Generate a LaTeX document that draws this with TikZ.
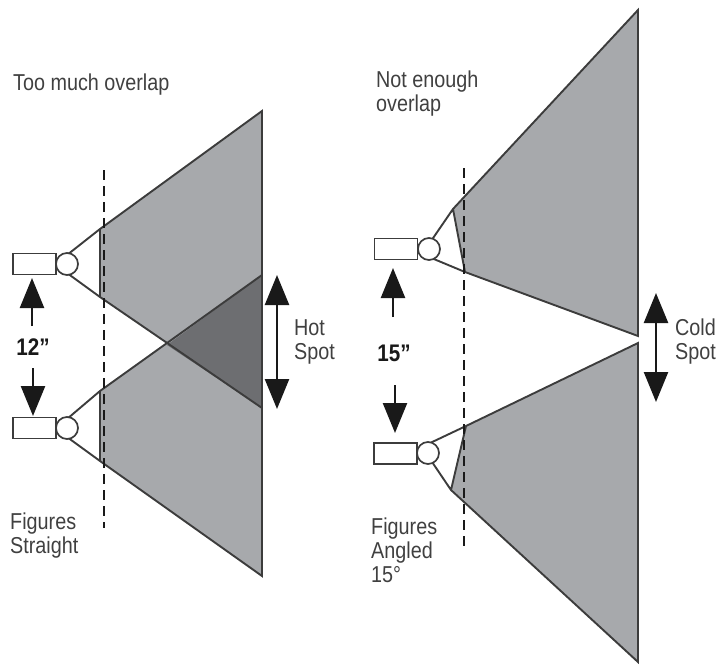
\documentclass[tikz,border=0pt]{standalone}
\usepackage{fontspec}
\setmainfont[FakeStretch=0.86]{Liberation Sans}
\usetikzlibrary{arrows.meta}
\definecolor{beamgray}{HTML}{A7A9AC}
\definecolor{hotgray}{HTML}{6D6E71}
\definecolor{linegray}{HTML}{3C3C3C}
\tikzset{
	lamp/.style={draw=linegray,line width=1.7pt,fill=white,minimum width=43pt,minimum height=21pt,inner sep=0pt},
	lens/.style={circle,draw=linegray,line width=1.7pt,fill=white,minimum size=22pt,inner sep=0pt},
	beam/.style={draw=linegray,line width=1.9pt},
	bigarrow/.style={line width=2.4pt,draw=black!90,-{Triangle[width=24pt,length=30pt]}},
	bothways/.style={line width=2.4pt,draw=black!90,{Triangle[width=24pt,length=30pt]}-{Triangle[width=24pt,length=30pt]}},
	cut/.style={line width=2.8pt,draw=black!90,dash pattern=on 10pt off 6pt},
	label/.style={align=left,anchor=north west,inner sep=0pt,text=black!75,font=\fontsize{23}{24}\selectfont},
	size/.style={inner sep=0pt,text=black!90,font=\fontsize{24}{24}\selectfont\bfseries}
}
\begin{document}
\begin{tikzpicture}[x=1pt,y=-1pt]
	\useasboundingbox (0,0) rectangle (716,670);
	% left pair
	\coordinate (a0) at (67,255);
	\coordinate (a1) at (100,229);
	\coordinate (a2) at (262,111);
	\coordinate (a3) at (262,408);
	\coordinate (a4) at (100,297);
	\coordinate (a5) at (67,273);
	\coordinate (b0) at (67,419);
	\coordinate (b1) at (100,391);
	\coordinate (b2) at (262,275);
	\coordinate (b3) at (262,576);
	\coordinate (b4) at (100,461);
	\coordinate (b5) at (67,437);
	\coordinate (x) at (167,345);
	\fill[beamgray] (a1) -- (a2) -- (a3) -- (a4) -- cycle;
	\fill[beamgray] (b1) -- (b2) -- (b3) -- (b4) -- cycle;
	\fill[hotgray] (x) -- (b2) -- (a3) -- cycle;
	\draw[beam] (a0) -- (a1) -- (a2) -- (a3) -- (a4) -- (a5) (a1) -- (a4);
	\draw[beam] (b0) -- (b1) -- (b2) -- (b3) -- (b4) -- (b5) (b1) -- (b4);
	\node[lamp] (la) at (34.5,264) {};
	\node[lens] (ca) at (67,264) {};
	\node[lamp] (lb) at (34.5,428) {};
	\node[lens] (cb) at (67,428) {};
	\coordinate (cuta) at (104,170);
	\coordinate (cutb) at (104,528);
	\draw[cut] (cuta) -- (cutb);
	\coordinate (up1) at (32,326);
	\coordinate (up2) at (32,278);
	\coordinate (dn1) at (33,368);
	\coordinate (dn2) at (33,416);
	\draw[bigarrow] (up1) -- (up2);
	\draw[bigarrow] (dn1) -- (dn2);
	\coordinate (hot1) at (277,275);
	\coordinate (hot2) at (277,409);
	\draw[bothways] (hot1) -- (hot2);
	\node[size] (twelve) at (33,347) {12\symbol{34}};
	\node[label] (much) at (13,74) {Too much overlap};
	\node[label] (hot) at (294,319) {Hot\\Spot};
	\node[label] (straight) at (10,513) {Figures\\Straight};
	% right pair
	\coordinate (c0) at (429,244);
	\coordinate (c1) at (453,209);
	\coordinate (c2) at (638,10);
	\coordinate (c3) at (638,336);
	\coordinate (c4) at (465,272);
	\coordinate (c5) at (429,257);
	\coordinate (d0) at (428,444);
	\coordinate (d1) at (466,426);
	\coordinate (d2) at (638,343);
	\coordinate (d3) at (638,662);
	\coordinate (d4) at (451,490);
	\coordinate (d5) at (428,456);
	\fill[beamgray] (c1) -- (c2) -- (c3) -- (c4) -- cycle;
	\fill[beamgray] (d1) -- (d2) -- (d3) -- (d4) -- cycle;
	\draw[beam] (c0) -- (c1) -- (c2) -- (c3) -- (c4) -- (c5) (c1) -- (c4);
	\draw[beam] (d0) -- (d1) -- (d2) -- (d3) -- (d4) -- (d5) (d1) -- (d4);
	\node[lamp] (lc) at (396,249) {};
	\node[lens] (cc) at (429,249) {};
	\node[lamp] (ld) at (395.5,453.5) {};
	\node[lens] (cd) at (428,453) {};
	\coordinate (cutc) at (464,168);
	\coordinate (cutd) at (464,552);
	\draw[cut] (cutc) -- (cutd);
	\coordinate (up3) at (393,317);
	\coordinate (up4) at (393,268);
	\coordinate (dn3) at (395,385);
	\coordinate (dn4) at (395,433);
	\draw[bigarrow] (up3) -- (up4);
	\draw[bigarrow] (dn3) -- (dn4);
	\coordinate (cold1) at (656,293);
	\coordinate (cold2) at (656,402);
	\draw[bothways] (cold1) -- (cold2);
	\node[size] (fifteen) at (394,353) {15\symbol{34}};
	\node[label] (enough) at (376,71) {Not enough\\overlap};
	\node[label] (cold) at (675,319) {Cold\\Spot};
	\node[label] (angled) at (371,518) {Figures\\Angled\\15°};
\end{tikzpicture}
\end{document}
